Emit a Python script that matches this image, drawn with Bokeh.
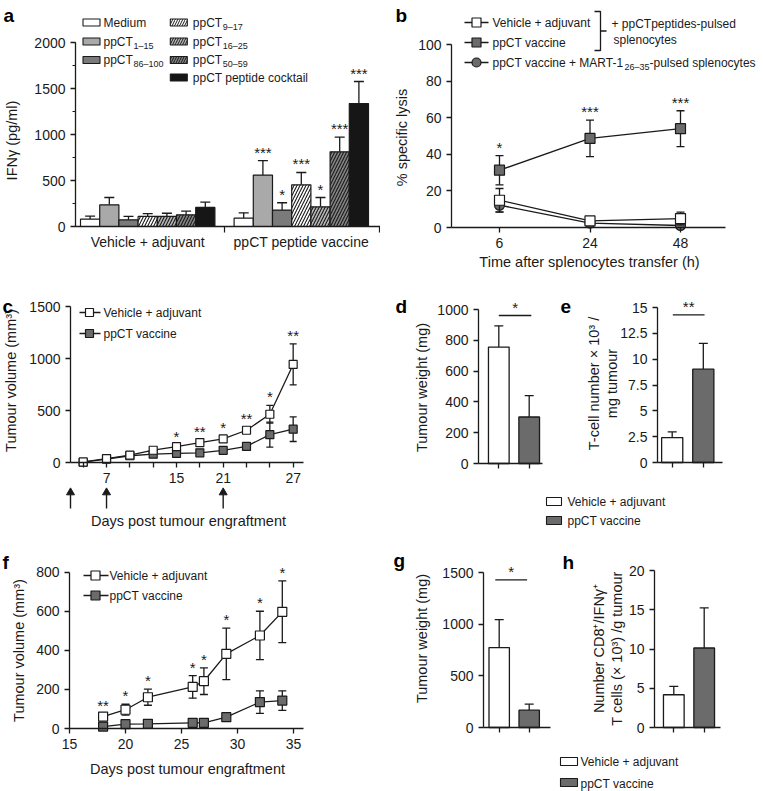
import math
from bokeh.plotting import figure
from bokeh.layouts import row, column
from bokeh.models import ColumnDataSource, FixedTicker, SingleIntervalTicker, Range1d
from bokeh.core.properties import value
from bokeh.embed import file_html
from bokeh.resources import INLINE

FONT = "Liberation Sans"
INK = "#1a1a1a"
GREY = "#6b6b6b"

# ---------------- data ----------------
# a: IFN-gamma release
a_groups = ["Vehicle + adjuvant", "ppCT peptide vaccine"]
a_stimuli = ["Medium", "ppCT", "ppCT", "ppCT", "ppCT", "ppCT", "ppCT peptide cocktail"]
a_subscripts = ["", "1–15", "86–100", "9–17", "16–25", "50–59", ""]
a_vehicle = [80, 236, 73, 109, 109, 127, 207]
a_vehicle_err = [33, 79, 36, 32, 35, 40, 58]
a_vaccine = [91, 559, 178, 453, 214, 812, 1337]
a_vaccine_err = [58, 158, 80, 134, 101, 160, 239]
a_vaccine_stars = ["", "***", "*", "***", "*", "***", "***"]
a_colors = ["white", "#a9a9a9", "#7a7a7a", "white", "#b4b4b4", "#828282", "#161616"]
a_hatch = [" ", " ", " ", "/", "/", "/", " "]

# b: specific lysis
b_times = ["6", "24", "48"]
b_vehicle = [14.9, 3.6, 4.9]
b_vehicle_err = [6.4, 1.2, 3.5]
b_vaccine = [31.3, 48.7, 54.0]
b_vaccine_err = [8.0, 10.0, 9.8]
b_mart = [12.2, 2.4, 1.1]
b_mart_err = [3.8, 1.0, 0.8]
b_stars = ["*", "***", "***"]

# c: tumour growth
c_day_labels = ["", "7", "", "", "15", "", "21", "", "", "27"]
c_vehicle = [5, 38, 70, 118, 152, 192, 227, 310, 464, 943]
c_vehicle_err = [5, 10, 12, 15, 18, 20, 25, 30, 86, 197]
c_vaccine = [3, 33, 65, 80, 88, 93, 117, 155, 268, 320]
c_vaccine_err = [3, 8, 10, 12, 12, 15, 18, 35, 120, 118]
c_stars = ["", "", "", "", "*", "**", "*", "**", "*", "**"]
c_vaccination_days = ["0", "7", "21"]

# d, e
de_groups = ["Vehicle + adjuvant", "ppCT vaccine"]
d_weight = [756, 302]
d_weight_err = [138, 139]
e_tcells = [2.41, 9.03]
e_tcells_err = [0.55, 2.5]

# f
f_days = [18, 20, 22, 26, 27, 29, 32, 34]
f_vehicle = [61, 96, 160, 213, 242, 382, 476, 597]
f_vehicle_err = [12, 28, 41, 58, 68, 132, 124, 158]
f_vaccine = [10, 22, 24, 29, 29, 58, 135, 143]
f_vaccine_err = [5, 8, 8, 6, 6, 20, 58, 50]
f_stars = ["**", "*", "*", "*", "*", "*", "*", "*"]

# g, h
g_weight = [774, 168]
g_weight_err = [271, 58]
h_cd8 = [4.17, 10.13]
h_cd8_err = [1.06, 5.1]

bar_colors = ["white", GREY]


# ---------------- helpers ----------------
class Panel:
    """A figure whose frame covers the whole canvas; axes sit at fixed locations."""

    def __init__(self, fx, fy, w, h, X0=0, x0=0, sx=1, Y0=None, sy=1, axes=True):
        self.X0, self.x0, self.sx, self.sy = X0, x0, sx, sy
        self.Y0 = fy + h if Y0 is None else Y0
        xs = x0 - (X0 - fx) / sx
        ys = -(fy + h - self.Y0) / sy
        p = figure(width=w, height=h, x_range=Range1d(xs, xs + w / sx),
                   y_range=Range1d(ys, ys + h / sy), output_backend="svg",
                   toolbar_location=None, title=None, min_border=0,
                   x_axis_location="below" if axes else None,
                   y_axis_location="left" if axes else None)
        p.outline_line_color = None
        p.grid.visible = False
        p.background_fill_color = "white"
        p.border_fill_color = "white"
        for ax in p.axis:
            ax.axis_line_width = 1.3
            ax.axis_line_color = INK
            ax.major_tick_line_color = INK
            ax.major_tick_line_width = 1.3
            ax.major_tick_in = 0
            ax.major_tick_out = 5
            ax.minor_tick_in = 0
            ax.minor_tick_out = 3
            ax.minor_tick_line_color = None
            ax.minor_tick_line_width = 1.2
            ax.major_label_text_font = FONT
            ax.major_label_text_font_size = "14px"
            ax.major_label_text_color = INK
        self.p = p

    def X(self, px):
        return self.x0 + (px - self.X0) / self.sx

    def Y(self, py):
        return (self.Y0 - py) / self.sy

    def axes_at(self, yaxis_px, xbounds=None, ybounds=None):
        self.p.yaxis.fixed_location = self.X(yaxis_px)
        self.p.xaxis.fixed_location = 0
        if xbounds:
            self.p.xaxis.bounds = xbounds
        if ybounds:
            self.p.yaxis.bounds = ybounds

    def text(self, x, y, t, size="12px", align="left", baseline="middle", **kw):
        self.p.text(x=x, y=y, text=t, text_font=value(FONT), text_font_size=value(size),
                    text_align=align, text_baseline=baseline, text_color=INK, **kw)

    def ptext(self, pxs, pys, t, **kw):
        self.text([self.X(a) for a in pxs], [self.Y(b) for b in pys], t, **kw)

    def ylabel(self, px, py, t):
        self.ptext([px], [py], [t], size="14.5px", align="center", angle=math.pi / 2)

    def xlabel(self, px, py, t):
        self.ptext([px], [py], [t], size="14.5px", align="center")

    def letter(self, px, py, t):
        self.p.text(x=[self.X(px)], y=[self.Y(py)], text=[t], text_font=value(FONT),
                    text_font_size=value("19px"), text_font_style="bold",
                    text_align="left", text_baseline="alphabetic", text_color="black")


def errbars(p, x, y, e, cap=8, both=True):
    hi = [a + b for a, b in zip(y, e)]
    lo = [a - b for a, b in zip(y, e)] if both else list(y)
    p.segment(x0=list(x), y0=lo, x1=list(x), y1=hi, line_color=INK, line_width=1.3)
    p.scatter(x=list(x), y=hi, marker="dash", size=cap, line_color=INK, line_width=1.3)
    if both:
        p.scatter(x=list(x), y=lo, marker="dash", size=cap, line_color=INK, line_width=1.3)


def series(p, x, y, e, fill, marker, size, cap=8):
    errbars(p, x, y, e, cap=cap)
    p.line(x=list(x), y=y, line_color=INK, line_width=1.3)
    p.scatter(x=list(x), y=y, marker=marker, size=size, fill_color=fill,
              line_color=INK, line_width=1.2)


def bars(P, vals, errs, cap=9):
    p = P.p
    xs = list(range(len(vals)))
    errbars(p, xs, vals, errs, cap=cap, both=False)
    p.vbar(x=xs, top=vals, bottom=0, width=0.68, fill_color=bar_colors,
           line_color=INK, line_width=1.3)
    p.xaxis.ticker = FixedTicker(ticks=xs)
    p.xaxis.major_label_overrides = {i: "" for i in xs}


def sig(P, x0, x1, y, stars):
    P.p.segment(x0=[x0], y0=[y], x1=[x1], y1=[y], line_color=INK, line_width=1.3)
    P.text([(x0 + x1) / 2], [y], [stars], size="15px", align="center", baseline="bottom")


def legend_lines(P, rows, x_line, x_mark, x_text, markers, fills, labels, size=9):
    ys = [P.Y(r) for r in rows]
    P.p.segment(x0=[P.X(x_line[0])] * len(ys), y0=ys, x1=[P.X(x_line[1])] * len(ys), y1=ys,
                line_color=INK, line_width=1.3)
    P.p.scatter(x=[P.X(x_mark)] * len(ys), y=ys, marker=markers, size=size,
                fill_color=fills, line_color=INK, line_width=1.2)
    P.ptext([x_text] * len(ys), rows, labels)


# ---------------- panel a ----------------
A = Panel(0, 0, 380, 290, X0=80, x0=0, sx=19.2, Y0=226, sy=0.092)
pa = A.p
n = len(a_stimuli)
xa = [i + 0.5 for i in range(n)] + [i + 8.5 for i in range(n)]
tops = a_vehicle + a_vaccine
errs = a_vehicle_err + a_vaccine_err
src = ColumnDataSource(dict(x=xa, top=tops, upper=[t + e for t, e in zip(tops, errs)],
                            color=a_colors * 2, hatch=a_hatch * 2))
pa.segment(x0="x", y0="top", x1="x", y1="upper", source=src, line_color=INK, line_width=1.3)
pa.scatter(x="x", y="upper", marker="dash", size=10, source=src, line_color=INK, line_width=1.3)
pa.vbar(x="x", top="top", bottom=0, width=1.0, source=src, fill_color="color",
        hatch_pattern="hatch", hatch_color=INK, hatch_scale=6, hatch_weight=1.1,
        line_color=INK, line_width=1.2)
si = [i for i in range(n) if a_vaccine_stars[i]]
A.text([xa[n + i] for i in si], [a_vaccine[i] + a_vaccine_err[i] for i in si],
       [a_vaccine_stars[i] for i in si], size="15px", align="center", baseline="bottom")
A.axes_at(75, xbounds=(A.X(75), A.X(380)), ybounds=(0, 2000))
pa.xaxis.ticker = FixedTicker(ticks=[3.5, 11.5], minor_ticks=[7.5, A.X(379)])
pa.xaxis.major_label_overrides = {3.5: a_groups[0], 11.5: a_groups[1]}
pa.xaxis.major_tick_out = 0
pa.xaxis.minor_tick_out = 6
pa.xaxis.minor_tick_line_color = INK
pa.xaxis.major_label_standoff = 1
pa.yaxis.ticker = SingleIntervalTicker(interval=500, num_minor_ticks=2)
pa.yaxis.minor_tick_line_color = INK
A.ylabel(11, 140, "IFNγ (pg/ml)")
# legend a
lbx = [91] * 3 + [178.3] * 4
ltx = [103] * 3 + [192.3] * 4
lry = [22, 41, 59.5, 22, 41, 59.5, 77]
pa.rect(x=[A.X(v) for v in lbx], y=[A.Y(v) for v in lry], width=17, height=7,
        width_units="screen", height_units="screen", fill_color=a_colors,
        hatch_pattern=a_hatch, hatch_color=INK, hatch_scale=5, hatch_weight=1.0,
        line_color=INK, line_width=1.1)
A.ptext(ltx, lry, a_stimuli)
sub = [i for i in range(n) if a_subscripts[i]]
A.ptext([ltx[i] for i in sub], [lry[i] for i in sub], [a_subscripts[i] for i in sub],
        size="9px", x_offset=30, y_offset=4)
A.letter(3, 15, "a")

# ---------------- panel b ----------------
B = Panel(380, 0, 383, 290, X0=499, x0=0, sx=90.5, Y0=227, sy=1.83)
pb = B.p
xb = list(range(len(b_times)))
series(pb, xb, b_mart, b_mart_err, GREY, "circle", 10)
series(pb, xb, b_vehicle, b_vehicle_err, "white", "square", 10)
series(pb, xb, b_vaccine, b_vaccine_err, GREY, "square", 10)
B.text(xb, [v + e for v, e in zip(b_vaccine, b_vaccine_err)], b_stars, size="15px",
       align="center", baseline="bottom")
B.axes_at(451, xbounds=(B.X(451), B.X(725)), ybounds=(0, 100))
pb.xaxis.ticker = FixedTicker(ticks=xb)
pb.xaxis.major_label_overrides = {i: t for i, t in zip(xb, b_times)}
pb.yaxis.ticker = SingleIntervalTicker(interval=20)
B.ylabel(401, 137, "% specific lysis")
B.xlabel(589, 261, "Time after splenocytes transfer (h)")
legend_lines(B, [22, 42, 62], (464, 488), 476, 492, ["square", "square", "circle"],
             ["white", GREY, GREY], ["Vehicle + adjuvant", "ppCT vaccine", "ppCT vaccine + MART-1"])
B.ptext([492], [62], ["26–35"], size="9px", x_offset=132, y_offset=4)
B.ptext([492], [62], ["-pulsed splenocytes"], x_offset=157)
pb.multi_line(xs=[[B.X(594), B.X(600), B.X(600), B.X(594)], [B.X(600), B.X(606)]],
              ys=[[B.Y(11), B.Y(11), B.Y(50), B.Y(50)], [B.Y(30.5), B.Y(30.5)]],
              line_color=INK, line_width=1.3)
B.ptext([611, 613], [23, 39], ["+ ppCTpeptides-pulsed", "splenocytes"])
B.letter(395, 15, "b")

# ---------------- panel c ----------------
C = Panel(0, 290, 380, 240, X0=82.7, x0=0, sx=23.33, Y0=462, sy=0.104)
pc = C.p
xc = list(range(len(c_day_labels)))
series(pc, xc, c_vaccine, c_vaccine_err, GREY, "square", 8, cap=7)
series(pc, xc, c_vehicle, c_vehicle_err, "white", "square", 8, cap=7)
cs = [i for i in xc if c_stars[i]]
C.text(cs, [c_vehicle[i] + c_vehicle_err[i] for i in cs], [c_stars[i] for i in cs],
       size="15px", align="center", baseline="bottom")
C.axes_at(70, xbounds=(C.X(70), C.X(303)), ybounds=(0, 1500))
pc.xaxis.ticker = FixedTicker(ticks=xc)
pc.xaxis.major_label_overrides = {i: t for i, t in zip(xc, c_day_labels)}
pc.yaxis.ticker = SingleIntervalTicker(interval=500)
C.ylabel(10, 380, "Tumour volume (mm³)")
C.xlabel(188, 520, "Days post tumour engraftment")
arrow_x = [c_day_labels.index(d) if d in c_day_labels else C.X(70) for d in c_vaccination_days]
pc.segment(x0=arrow_x, y0=[C.Y(508)] * 3, x1=arrow_x, y1=[C.Y(494)] * 3,
           line_color=INK, line_width=1.4)
pc.scatter(x=arrow_x, y=[C.Y(492)] * 3, marker="triangle", size=8, fill_color=INK,
           line_color=INK)
legend_lines(C, [312, 333], (79, 100), 89, 103, "square", ["white", GREY],
             ["Vehicle + adjuvant", "ppCT vaccine"], size=8)
C.letter(2, 306, "c")

# ---------------- panel d ----------------
D = Panel(380, 290, 175, 200, X0=498.3, x0=0, sx=30.4, Y0=463, sy=0.154)
bars(D, d_weight, d_weight_err)
sig(D, 0, 1.07, 961, "*")
D.axes_at(478, xbounds=(D.X(478), D.X(542)), ybounds=(0, 1000))
D.p.yaxis.ticker = SingleIntervalTicker(interval=200)
D.ylabel(421, 387, "Tumour weight (mg)")
D.letter(395, 306, "d")

# ---------------- panel e ----------------
E = Panel(555, 290, 208, 200, X0=671.7, x0=0, sx=31.1, Y0=462, sy=10.33)
bars(E, e_tcells, e_tcells_err)
sig(E, 0.02, 1.04, 14.3, "**")
E.axes_at(657, xbounds=(E.X(657), E.X(722)), ybounds=(0, 15))
E.p.yaxis.ticker = FixedTicker(ticks=[0, 2.5, 5, 7.5, 10, 12.5, 15])
E.p.yaxis.major_label_overrides = {0: "0", 5: "5", 10: "10", 15: "15"}
E.ylabel(593, 383, "T-cell number × 10³ /")
E.ylabel(611, 383, "mg tumour")
E.letter(560, 306, "e")

# legend d/e
L1 = Panel(380, 490, 383, 40, X0=380, Y0=530, axes=False)
L1.p.rect(x=[L1.X(553.5)] * 2, y=[L1.Y(501), L1.Y(520)], width=15, height=8,
          fill_color=bar_colors, line_color=INK, line_width=1.1)
L1.ptext([567] * 2, [501, 520], de_groups)

# ---------------- panel f ----------------
F = Panel(0, 530, 380, 261, X0=69, x0=15, sx=11.2, Y0=728, sy=0.1954)
pf = F.p
series(pf, f_days, f_vaccine, f_vaccine_err, GREY, "square", 9, cap=8)
series(pf, f_days, f_vehicle, f_vehicle_err, "white", "square", 9, cap=8)
F.text(f_days, [v + e for v, e in zip(f_vehicle, f_vehicle_err)], f_stars, size="15px",
       align="center", baseline="bottom")
F.axes_at(69, xbounds=(15, F.X(303)), ybounds=(0, 800))
pf.xaxis.ticker = SingleIntervalTicker(interval=5)
pf.yaxis.ticker = SingleIntervalTicker(interval=200)
F.ylabel(18, 650, "Tumour volume (mm³)")
F.xlabel(187, 768, "Days post tumour engraftment")
legend_lines(F, [575, 595], (83, 108), 95, 109, "square", ["white", GREY],
             ["Vehicle + adjuvant", "ppCT vaccine"], size=9)
F.letter(2, 562, "f")

# ---------------- panel g ----------------
G = Panel(380, 530, 175, 225, X0=498.7, x0=0, sx=30, Y0=727, sy=0.1033)
bars(G, g_weight, g_weight_err)
sig(G, -0.13, 0.93, 1429, "*")
G.axes_at(483, xbounds=(G.X(483), G.X(550)), ybounds=(0, 1500))
G.p.yaxis.ticker = SingleIntervalTicker(interval=500)
G.ylabel(421, 638, "Tumour weight (mg)")
G.letter(393, 560, "g")

# ---------------- panel h ----------------
H = Panel(555, 530, 208, 225, X0=673.3, x0=0, sx=30.4, Y0=727, sy=7.85)
bars(H, h_cd8, h_cd8_err)
H.axes_at(654, xbounds=(H.X(654), H.X(720)), ybounds=(0, 20))
H.p.yaxis.ticker = SingleIntervalTicker(interval=5)
H.ylabel(598, 648, "Number CD8⁺/IFNγ⁺")
H.ylabel(616, 648, "T cells (× 10³) /g tumour")
H.letter(562, 562, "h")

L2 = Panel(380, 755, 383, 36, X0=380, Y0=791, axes=False)
L2.p.rect(x=[L2.X(568.5)] * 2, y=[L2.Y(761), L2.Y(782)], width=17, height=8,
          fill_color=bar_colors, line_color=INK, line_width=1.1)
L2.ptext([580] * 2, [761, 783], de_groups)

layout = column(
    row(A.p, B.p),
    row(C.p, column(row(D.p, E.p), L1.p)),
    row(F.p, column(row(G.p, H.p), L2.p)),
)

open("out.html", "w").write(file_html(layout, INLINE))
